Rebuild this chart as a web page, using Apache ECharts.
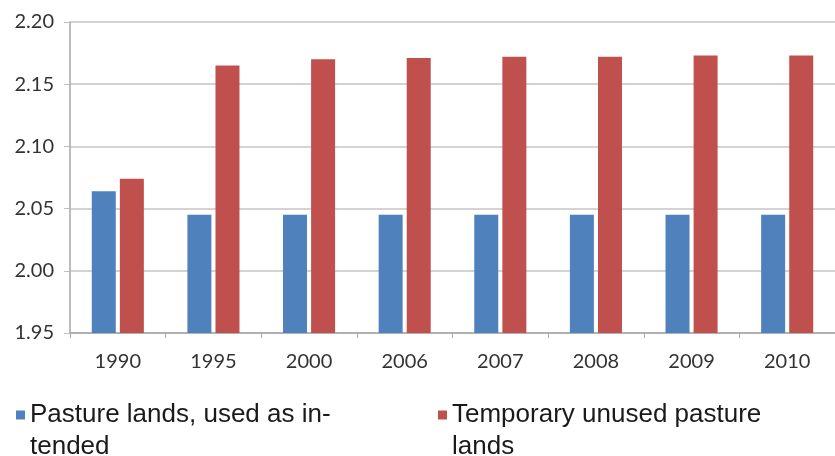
<!DOCTYPE html>
<html>
<head>
<meta charset="utf-8">
<script src="https://cdn.jsdelivr.net/npm/echarts@6/dist/echarts.min.js"></script>
<style>html,body{margin:0;padding:0;background:#fff;}#c{width:835px;height:456px;}</style>
</head>
<body>
<div id="c"></div>
<script>
const categories = ['1990', '1995', '2000', '2006', '2007', '2008', '2009', '2010'];
const pastureUsed = [2.064, 2.045, 2.045, 2.045, 2.045, 2.045, 2.045, 2.045];
const pastureUnused = [2.074, 2.165, 2.170, 2.171, 2.172, 2.172, 2.173, 2.173];
const seriesNames = ['Pasture lands, used as intended', 'Temporary unused pasture lands'];
const legendFirstLines = ['Pasture lands, used as in-', 'Temporary unused pasture'];
const legendSecondLines = ['tended', 'lands'];
const yMin = 1.95, yMax = 2.20, yStep = 0.05;

const chart = echarts.init(document.getElementById('c'), null, {renderer: 'canvas'});
const legendFont = '"Liberation Sans", Arial, sans-serif';
const legendText = {fontFamily: legendFont, fontSize: 26, color: '#1a1a1a', lineHeight: 32};
chart.setOption({
  animation: false,
  backgroundColor: '#ffffff',
  grid: {left: 70, right: -3, top: 22, height: 311, containLabel: false},
  xAxis: {
    type: 'category',
    data: categories,
    axisLine: {show: true, lineStyle: {color: '#a6a6a6', width: 1.5}},
    axisTick: {show: true, alignWithLabel: false, length: 5, lineStyle: {color: '#a6a6a6'}},
    axisLabel: {fontFamily: 'Lato, "Open Sans", sans-serif', fontSize: 20, color: '#333333', margin: 19}
  },
  yAxis: {
    type: 'value',
    min: yMin, max: yMax, interval: yStep,
    axisLine: {show: true, lineStyle: {color: '#a6a6a6', width: 1.5}},
    axisTick: {show: true, length: 6, lineStyle: {color: '#c0c0c0'}},
    splitLine: {show: true, lineStyle: {color: '#c4c4c4', width: 1.5}},
    axisLabel: {fontFamily: 'Lato, "Open Sans", sans-serif', fontSize: 20, color: '#333333', margin: 16,
      formatter: v => v.toFixed(2)}
  },
  legend: [
    {data: [seriesNames[0]], left: 16, top: 399, itemWidth: 9, itemHeight: 9, icon: 'rect',
     formatter: () => legendFirstLines[0], textStyle: legendText, itemGap: 0, padding: 0},
    {data: [seriesNames[1]], left: 438, top: 399, itemWidth: 9, itemHeight: 9, icon: 'rect',
     formatter: () => legendFirstLines[1], textStyle: legendText, itemGap: 0, padding: 0}
  ],
  graphic: [
    {type: 'text', left: 30, top: 434, style: {text: legendSecondLines[0], font: '26px ' + legendFont, fill: '#1a1a1a'}},
    {type: 'text', left: 452, top: 434, style: {text: legendSecondLines[1], font: '26px ' + legendFont, fill: '#1a1a1a'}}
  ],
  series: [
    {name: seriesNames[0], type: 'bar', data: pastureUsed, barWidth: 24, barGap: '17%',
     itemStyle: {color: '#4F81BD'}},
    {name: seriesNames[1], type: 'bar', data: pastureUnused, barWidth: 24,
     itemStyle: {color: '#C0504D'}}
  ]
});
</script>
</body>
</html>
